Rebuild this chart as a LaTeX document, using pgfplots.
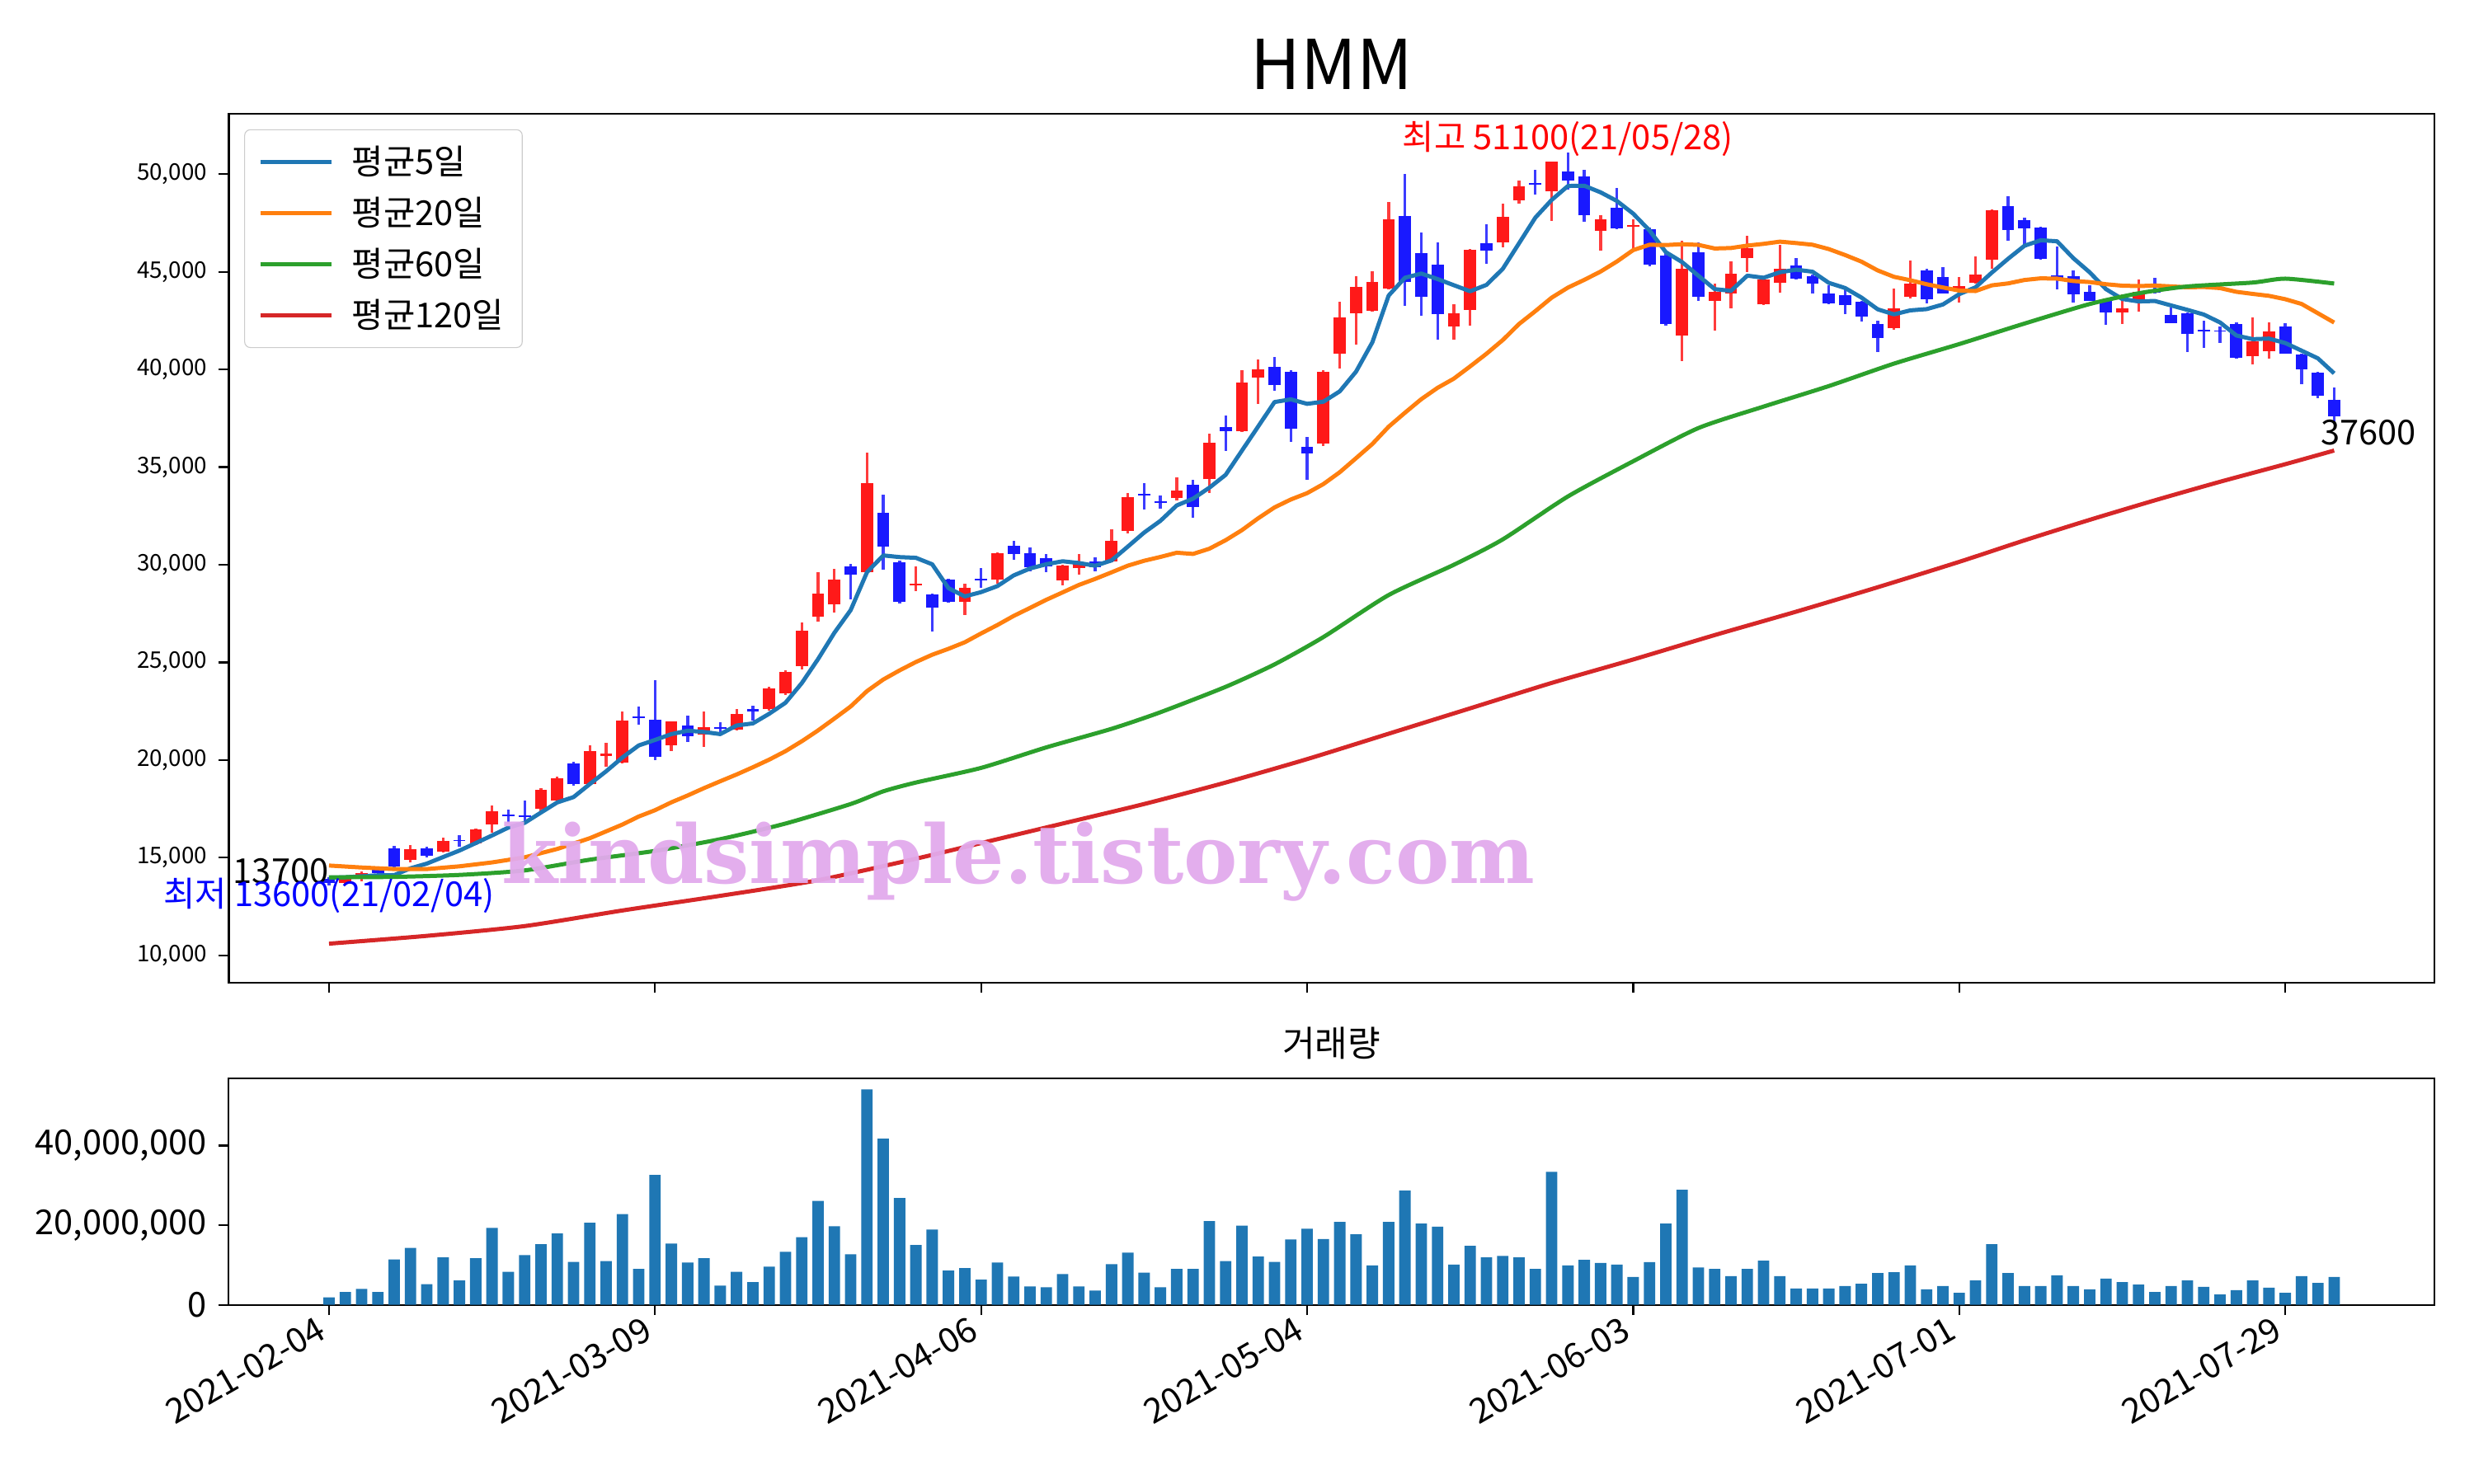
\documentclass[border=0pt]{standalone}
\usepackage{fontspec}
\setmainfont{Noto Sans CJK KR}
\newfontfamily\wmfont{DejaVu Serif}
\usepackage{pgfplots}
\usepackage{pgfplotstable}
\pgfplotsset{compat=1.18}

\definecolor{c5}{HTML}{1F77B4}
\definecolor{c20}{HTML}{FF7F0E}
\definecolor{c60}{HTML}{2CA02C}
\definecolor{c120}{HTML}{D62728}
\definecolor{upbody}{HTML}{FF1919}
\definecolor{upwick}{HTML}{FF3C3C}
\definecolor{dnbody}{HTML}{1919FF}
\definecolor{dnwick}{HTML}{3C3CFF}
\definecolor{wm}{HTML}{E2AAEC}

\newcommand\ytickfont{\fontsize{10}{12}\selectfont}
\newcommand\tickfont{\fontsize{15}{17}\selectfont}
\newcommand\legfont{\fontsize{15}{17}\selectfont}
\newcommand\annfont{\fontsize{15}{18}\selectfont}

% 상승 캔들 (종가 >= 시가)
\pgfplotstableread{
i O H L C
1 13700 14100 13600 13900
2 13900 14300 13800 14200
5 14900 15670 14750 15450
7 15300 16050 15250 15880
9 15740 16500 15670 16470
10 16700 17680 16300 17400
13 17500 18550 17400 18480
14 17920 19150 17800 19070
16 18760 20750 18690 20470
17 20200 20900 19670 20350
18 19880 22480 19820 22020
21 20770 21990 20450 21960
23 21300 22480 20660 21700
25 21570 22620 21500 22370
27 22620 23750 22550 23680
28 23400 24590 23330 24520
29 24800 27050 24620 26630
30 27360 29620 27080 28530
31 27960 29790 27540 29230
33 29620 35730 29580 34200
36 28950 29900 28660 29050
39 28100 29020 27430 28830
41 29255 30630 29020 30590
45 29200 30000 28945 29960
46 29820 30560 29480 30140
48 30180 31830 30140 31220
49 31730 33680 31590 33470
52 33400 34480 33300 33800
54 34380 36700 33670 36260
56 36850 39950 36800 39350
57 39600 40510 38250 40000
61 36200 39950 36100 39900
62 40800 43470 40030 42650
63 42880 44760 41280 44240
64 42990 45010 42950 44460
65 44140 48570 44100 47670
69 42220 43350 41510 42880
70 43060 46150 42250 46120
72 46500 48500 46240 47830
73 48650 49680 48480 49390
75 49120 50650 47610 50640
78 47100 47910 46090 47700
80 47300 47680 46230 47400
83 41730 46580 40430 45150
85 43490 44400 42010 43980
86 43900 45530 43110 44920
87 45700 46860 44990 46230
88 43320 44650 43300 44610
89 44440 46370 43950 45150
96 42110 44160 42040 43110
97 43740 45570 43630 44400
100 44050 44750 43420 44260
101 44440 45810 44400 44860
102 45620 48200 45170 48170
110 42930 43840 42320 43140
111 43420 44610 42970 43980
118 40680 42670 40260 41450
119 40920 42430 40540 41940
}\upcandles

% 하락 캔들
\pgfplotstableread{
i O H L C
0 13900 14000 13600 13700
3 14400 14500 14100 14200
4 15500 15600 14400 14550
6 15500 15550 15000 15100
8 15900 16150 15550 15850
11 17200 17470 16750 17120
12 17150 17920 16720 17090
15 19840 19900 18700 18760
19 22250 22740 21810 22150
20 22060 24100 19980 20170
22 21780 22270 20940 21220
24 21700 21920 21290 21600
26 22600 22800 22030 22500
32 29930 30030 28240 29480
34 32670 33580 29760 30940
35 30110 30210 28030 28100
37 28480 28525 26600 27820
38 29250 29300 28075 28100
40 29300 29820 28800 29200
42 30980 31220 30240 30560
43 30590 30885 29650 29860
44 30350 30535 29620 29930
47 30180 30380 29680 29860
50 33650 34190 32810 33550
51 33250 33550 32860 33150
53 34080 34340 32410 32960
55 37050 37630 35810 36850
58 40150 40620 38920 39200
59 39900 39950 36300 36950
60 36050 36550 34340 35700
66 47860 50010 43250 44460
67 45970 47020 42760 43720
68 45350 46500 41540 42840
71 46460 47420 45420 46090
74 49550 50230 48940 49450
76 50150 51100 49190 49670
77 49900 50230 47560 47890
79 48300 49290 47200 47240
81 47170 47250 45300 45360
82 45850 46000 42250 42340
84 46020 46510 43490 43740
90 45310 45710 44600 44640
91 44780 44850 43880 44400
92 43880 44300 43350 43380
93 43800 44120 42830 43280
94 43450 43500 42460 42720
95 42320 42480 40890 41620
98 45060 45170 43390 43600
99 44750 45240 43880 43910
103 48360 48870 46610 47140
104 47630 47770 46400 47240
105 47280 47300 45600 45670
106 44800 46300 44100 44600
107 44780 45080 43420 43840
108 43980 44330 43500 43530
109 43560 43600 42290 42930
112 44100 44710 43900 43950
113 42810 43170 42350 42390
114 42860 42900 40890 41800
115 42050 42500 41100 41950
116 42000 42200 41350 41950
117 42340 42400 40550 40610
120 42220 42360 40800 40820
121 40750 40800 39230 40000
122 39830 39900 38530 38640
123 38460 39090 37310 37600
}\dncandles

% 거래량
\pgfplotstableread{
i V
0 1900000
1 3200000
2 4000000
3 3200000
4 11400000
5 14300000
6 5200000
7 11900000
8 6100000
9 11700000
10 19300000
11 8300000
12 12500000
13 15200000
14 17900000
15 10800000
16 20600000
17 11000000
18 22800000
19 9000000
20 32600000
21 15400000
22 10600000
23 11700000
24 4800000
25 8300000
26 5700000
27 9600000
28 13300000
29 17000000
30 26100000
31 19700000
32 12700000
33 54100000
34 41700000
35 26800000
36 15000000
37 18900000
38 8600000
39 9200000
40 6300000
41 10600000
42 7100000
43 4600000
44 4400000
45 7700000
46 4600000
47 3600000
48 10200000
49 13100000
50 8100000
51 4400000
52 9000000
53 9000000
54 21000000
55 11000000
56 19900000
57 12100000
58 10800000
59 16400000
60 19100000
61 16500000
62 20800000
63 17700000
64 9900000
65 20800000
66 28700000
67 20400000
68 19600000
69 10100000
70 14800000
71 11900000
72 12300000
73 11900000
74 9000000
75 33400000
76 9900000
77 11300000
78 10500000
79 10100000
80 7000000
81 10700000
82 20400000
83 28900000
84 9400000
85 9000000
86 7200000
87 9000000
88 11100000
89 7200000
90 4100000
91 4100000
92 4100000
93 4700000
94 5300000
95 8000000
96 8200000
97 9900000
98 3900000
99 4700000
100 3000000
101 6100000
102 15200000
103 8000000
104 4700000
105 4700000
106 7400000
107 4700000
108 3900000
109 6600000
110 5700000
111 5100000
112 3200000
113 4700000
114 6100000
115 4500000
116 2600000
117 3700000
118 6100000
119 4300000
120 3000000
121 7200000
122 5500000
123 7000000
}\volume

\begin{document}
\begin{tikzpicture}
\path[use as bounding box] (0,0) rectangle (1080pt,648pt);

\node[anchor=base, font=\fontsize{30}{34}\selectfont] at (581.3pt,608.8pt) {HMM};

\begin{axis}[
    at={(99.86pt,218.88pt)}, anchor=south west,
    width=962.86pt, height=379.5pt, scale only axis,
    xmin=-6.15, xmax=129.15, ymin=8600, ymax=53100,
    clip mode=individual,
    xtick={0,20,...,120}, xticklabels={},
    ytick={10000,15000,20000,25000,30000,35000,40000,45000,50000},
    yticklabels={{10,000},{15,000},{20,000},{25,000},{30,000},{35,000},{40,000},{45,000},{50,000}},
    scaled y ticks=false,
    /pgf/number format/assume math mode=true,
    ticklabel style={font=\ytickfont},
    yticklabel style={xshift=-1.5pt},
    tick pos=left, tick align=outside, major tick length=4.5pt,
    tick style={black, line width=0.8pt},
    axis line style={line width=0.8pt},
    legend cell align=left,
    legend image code/.code={\draw[#1] (0pt,0pt) -- (31pt,0pt);},
    legend style={at={(0.007,0.982)}, anchor=north west, draw=black!20,
        fill=white, fill opacity=0.8, text opacity=1, rounded corners=2.5pt,
        font=\legfont, row sep=4.5pt, inner xsep=6pt, inner ysep=5pt,
        /tikz/every odd column/.append style={column sep=6pt}},
]
% 꼬리
\addplot[forget plot, draw=none, mark=none,
    error bars/.cd, y dir=both, y explicit, error mark=none,
    error bar style={draw=upwick, line width=1.2pt}]
    table[x=i, y=O, y error plus expr=\thisrow{H}-\thisrow{O}, y error minus expr=\thisrow{O}-\thisrow{L}] {\upcandles};
\addplot[forget plot, draw=none, mark=none,
    error bars/.cd, y dir=both, y explicit, error mark=none,
    error bar style={draw=dnwick, line width=1.2pt}]
    table[x=i, y=O, y error plus expr=\thisrow{H}-\thisrow{O}, y error minus expr=\thisrow{O}-\thisrow{L}] {\dncandles};
% 몸통
\addplot[forget plot, draw=none, mark=none,
    error bars/.cd, y dir=plus, y explicit, error mark=none,
    error bar style={draw=upbody, line width=5.3pt}]
    table[x=i, y=O, y error plus expr=\thisrow{C}-\thisrow{O}] {\upcandles};
\addplot[forget plot, draw=none, mark=none,
    error bars/.cd, y dir=plus, y explicit, error mark=none,
    error bar style={draw=dnbody, line width=5.3pt}]
    table[x=i, y=C, y error plus expr=\thisrow{O}-\thisrow{C}] {\dncandles};

\addplot[c5, line width=1.8pt, line join=round] coordinates {
(0,13980)(1,14000)(2,14050)(3,14100)(4,14110)(5,14460)(6,14700)(7,15036)(8,15366)(9,15750)
(10,16140)(11,16544)(12,16786)(13,17312)(14,17832)(15,18104)(16,18774)(17,19426)(18,20134)(19,20750)
(20,21032)(21,21330)(22,21504)(23,21440)(24,21330)(25,21770)(26,21878)(27,22370)(28,22934)(29,23940)
(30,25172)(31,26518)(32,27678)(33,29617)(34,30479)(35,30393)(36,30357)(37,30025)(38,28802)(39,28380)
(40,28600)(41,28908)(42,29456)(43,29808)(44,30028)(45,30180)(46,30090)(47,29950)(48,30222)(49,30930)
(50,31648)(51,32250)(52,33038)(53,33386)(54,33944)(55,34604)(56,35844)(57,37084)(58,38332)(59,38470)
(60,38240)(61,38350)(62,38880)(63,39888)(64,41390)(65,43784)(66,44696)(67,44910)(68,44630)(69,44314)
(70,44004)(71,44330)(72,45152)(73,46462)(74,47776)(75,48680)(76,49396)(77,49408)(78,49070)(79,48628)
(80,47980)(81,47118)(82,46008)(83,45498)(84,44798)(85,44114)(86,44026)(87,44804)(88,44696)(89,44978)
(90,45110)(91,45006)(92,44436)(93,44170)(94,43684)(95,43080)(96,42822)(97,43026)(98,43090)(99,43328)
(100,43856)(101,44206)(102,44960)(103,45668)(104,46334)(105,46616)(106,46564)(107,45698)(108,44976)(109,44114)
(110,43608)(111,43484)(112,43506)(113,43278)(114,43052)(115,42814)(116,42408)(117,41740)(118,41552)(119,41580)
(120,41354)(121,40964)(122,40570)(123,39800)};
\addlegendentry{평균5일}
\addplot[c20, line width=1.8pt, line join=round] coordinates {
(0,14600)(2,14500)(4,14420)(6,14420)(8,14560)(10,14760)(12,15020)(14,15450)(16,16000)(18,16700)
(19,17110)(20,17434)(21,17837)(22,18188)(23,18563)(24,18916)(25,19262)(26,19632)(27,20022)(28,20455)
(29,20963)(30,21520)(31,22125)(32,22745)(33,23531)(34,24125)(35,24592)(36,25021)(37,25394)(38,25698)
(39,26032)(40,26484)(41,26915)(42,27382)(43,27790)(44,28207)(45,28586)(46,28968)(47,29277)(48,29612)
(49,29954)(50,30205)(51,30401)(52,30617)(53,30555)(54,30821)(55,31258)(56,31773)(57,32382)(58,32937)
(59,33343)(60,33668)(61,34134)(62,34738)(63,35457)(64,36184)(65,37069)(66,37785)(67,38478)(68,39059)
(69,39530)(70,40158)(71,40805)(72,41507)(73,42328)(74,42988)(75,43677)(76,44193)(77,44588)(78,45013)
(79,45527)(80,46112)(81,46385)(82,46370)(83,46415)(84,46379)(85,46195)(86,46218)(87,46343)(88,46432)
(89,46545)(90,46471)(91,46387)(92,46164)(93,45859)(94,45522)(95,45071)(96,44743)(97,44569)(98,44364)
(99,44197)(100,44040)(101,44015)(102,44307)(103,44406)(104,44581)(105,44666)(106,44650)(107,44530)(108,44476)
(109,44365)(110,44290)(111,44269)(112,44298)(113,44253)(114,44207)(115,44224)(116,44166)(117,43976)(118,43869)
(119,43770)(120,43598)(121,43355)(122,42879)(123,42402)};
\addlegendentry{평균20일}
\addplot[c60, line width=1.8pt, smooth, tension=0.4] coordinates {
(0,14000)(4,14020)(8,14120)(12,14350)(16,14900)(20,15350)(24,15950)(28,16750)(32,17750)(34,18400)
(36,18850)(40,19600)(44,20650)(48,21600)(51,22450)(55,23750)(58,24900)(61,26300)(65,28450)(69,30000)
(72,31300)(76,33500)(80,35300)(84,37000)(88,38100)(92,39150)(96,40300)(100,41300)(104,42350)(108,43350)
(111,43900)(114,44250)(118,44450)(120,44650)(123,44400)};
\addlegendentry{평균60일}
\addplot[c120, line width=1.8pt, smooth, tension=0.4] coordinates {
(0,10600)(6,11000)(12,11500)(18,12300)(24,13050)(30,13850)(36,14950)(40,15750)(45,16750)(50,17750)
(55,18850)(60,20050)(65,21350)(70,22650)(75,23950)(80,25150)(85,26400)(90,27600)(95,28850)(100,30150)
(104,31250)(108,32300)(112,33300)(116,34250)(120,35150)(123,35850)};
\addlegendentry{평균120일}

\node[anchor=base east, inner sep=0pt, font=\annfont] at (axis cs:0,13700) {13700};
\node[anchor=base, inner sep=0pt, font=\annfont, text=blue] at (axis cs:0,12500) {최저 13600(21/02/04)};
\node[anchor=base, inner sep=0pt, font=\annfont, text=red] at (axis cs:76,51250) {최고 51100(21/05/28)};
\node[anchor=north west, inner sep=0pt, font=\annfont, xshift=-6pt, yshift=-1.5pt] at (axis cs:123,37600) {37600};
\end{axis}

\node[anchor=base, font=\fontsize{15.5}{18}\selectfont] at (581.3pt,186.5pt) {거래량};

\begin{axis}[
    at={(99.86pt,78.23pt)}, anchor=south west,
    width=962.86pt, height=98.8pt, scale only axis,
    xmin=-6.15, xmax=129.15, ymin=0, ymax=56800000,
    xtick={0,20,...,120},
    xticklabels={2021-02-04,2021-03-09,2021-04-06,2021-05-04,2021-06-03,2021-07-01,2021-07-29},
    ytick={0,20000000,40000000},
    yticklabels={0,{20,000,000},{40,000,000}},
    scaled y ticks=false,
    /pgf/number format/assume math mode=true,
    ticklabel style={font=\tickfont},
    yticklabel style={xshift=-1.5pt},
    xticklabel style={rotate=30, anchor=north east, inner sep=1pt, xshift=-4pt, yshift=4pt},
    tick pos=left, tick align=outside, major tick length=4.5pt,
    tick style={black, line width=0.8pt},
    axis line style={line width=0.8pt},
]
\addplot[ybar, bar width=0.7, fill=c5, draw=none] table[x=i, y=V] {\volume};
\end{axis}

\node[anchor=base west, inner sep=0pt, text=wm, opacity=0.95] at (218.9pt,262.4pt)
    {\resizebox{451pt}{!}{\wmfont\bfseries kindsimple.tistory.com}};
\end{tikzpicture}
\end{document}
